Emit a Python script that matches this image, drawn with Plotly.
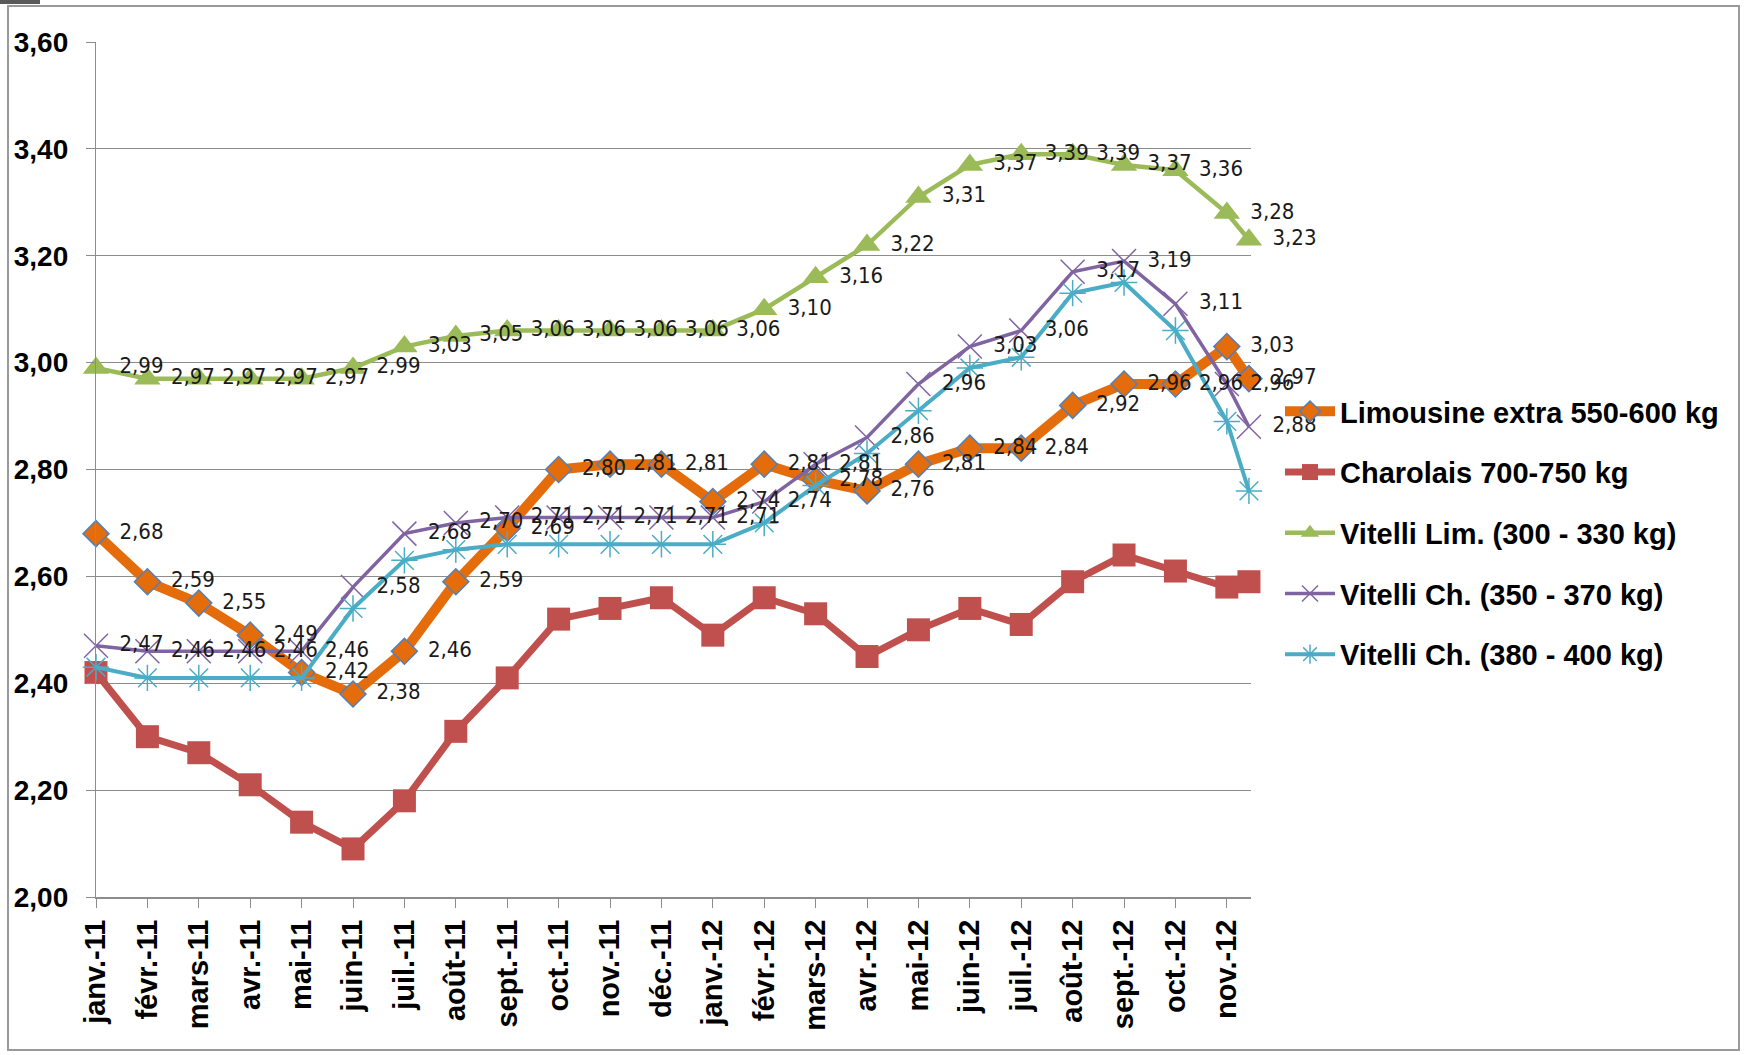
import plotly.graph_objects as go

# ---- data ----
month_labels = ["janv.-11", "févr.-11", "mars-11", "avr.-11", "mai-11", "juin-11", "juil.-11",
                "août-11", "sept.-11", "oct.-11", "nov.-11", "déc.-11", "janv.-12", "févr.-12",
                "mars-12", "avr.-12", "mai-12", "juin-12", "juil.-12", "août-12", "sept.-12",
                "oct.-12", "nov.-12"]
# position of each observation on the month axis (last one is mid-november 2012)
period = list(range(23)) + [22.43]

limousine = [2.68, 2.59, 2.55, 2.49, 2.42, 2.38, 2.46, 2.59, 2.69, 2.80, 2.81, 2.81,
             2.74, 2.81, 2.78, 2.76, 2.81, 2.84, 2.84, 2.92, 2.96, 2.96, 3.03, 2.97]
charolais = [2.42, 2.30, 2.27, 2.21, 2.14, 2.09, 2.18, 2.31, 2.41, 2.52, 2.54, 2.56,
             2.49, 2.56, 2.53, 2.45, 2.50, 2.54, 2.51, 2.59, 2.64, 2.61, 2.58, 2.59]
vitelli_lim = [2.99, 2.97, 2.97, 2.97, 2.97, 2.99, 3.03, 3.05, 3.06, 3.06, 3.06, 3.06,
               3.06, 3.10, 3.16, 3.22, 3.31, 3.37, 3.39, 3.39, 3.37, 3.36, 3.28, 3.23]
vitelli_ch_350 = [2.47, 2.46, 2.46, 2.46, 2.46, 2.58, 2.68, 2.70, 2.71, 2.71, 2.71, 2.71,
                  2.71, 2.74, 2.81, 2.86, 2.96, 3.03, 3.06, 3.17, 3.19, 3.11, 2.96, 2.88]
vitelli_ch_380 = [2.43, 2.41, 2.41, 2.41, 2.41, 2.54, 2.63, 2.65, 2.66, 2.66, 2.66, 2.66,
                  2.66, 2.70, 2.77, 2.83, 2.91, 2.99, 3.01, 3.13, 3.15, 3.06, 2.89, 2.76]

series_names = ["Limousine extra 550-600 kg", "Charolais 700-750 kg", "Vitelli Lim. (300 - 330 kg)",
                "Vitelli Ch. (350 - 370 kg)", "Vitelli Ch. (380 - 400 kg)"]
y_ticks = [2.0, 2.2, 2.4, 2.6, 2.8, 3.0, 3.2, 3.4, 3.6]

# ---- styles ----
BOLD_FONT = "Liberation Sans, Arial, sans-serif"
LABEL_FONT = "DejaVu Sans Condensed, Liberation Sans Narrow, Arial Narrow, sans-serif"
series_values = [limousine, charolais, vitelli_lim, vitelli_ch_350, vitelli_ch_380]
styles = [
    dict(color="#E46C0A", width=10, symbol="diamond", msize=20, mline=dict(color="#4F81BD", width=1.5), labels=True),
    dict(color="#C0504D", width=7, symbol="square", msize=23, mline=dict(color="#C0504D", width=0), labels=False),
    dict(color="#9BBB59", width=4.5, symbol="triangle-up", msize=23, mline=dict(color="#9BBB59", width=0), labels=True),
    dict(color="#8064A2", width=3.5, symbol="x-thin-open", msize=24, mline=dict(color="#8064A2", width=1.5), labels=True),
    dict(color="#4BACC6", width=4, symbol="asterisk-open", msize=22, mline=dict(color="#4BACC6", width=1.5), labels=False),
]

fig = go.Figure()
for i, (name, vals, st) in enumerate(zip(series_names, series_values, styles)):
    fig.add_trace(go.Scatter(
        x=period, y=vals, name=name, mode="lines+markers",
        legendgroup=f"g{i}",
        line=dict(color=st["color"], width=st["width"]),
        marker=dict(symbol=st["symbol"], size=st["msize"], color=st["color"], line=st["mline"]),
        cliponaxis=False, hoverinfo="skip",
    ))

# data labels (invisible markers push the text to the right of each point)
for i, (vals, st) in enumerate(zip(series_values, styles)):
    if not st["labels"]:
        continue
    fig.add_trace(go.Scatter(
        x=period, y=vals, mode="markers+text", showlegend=False,
        text=[f"{v:.2f}".replace(".", ",") for v in vals],
        textposition="middle right",
        marker=dict(size=36, color="rgba(0,0,0,0)"),
        textfont=dict(family=LABEL_FONT, size=22, color="#1a1a1a"),
        cliponaxis=False, hoverinfo="skip",
    ))

L, R, T, B = 96, 493, 42, 158
W, H = 1744, 1055
pw, ph = W - L - R, H - T - B


def px_x(px):
    return (px - L) / pw


def px_y(py):
    return (H - B - py) / ph


fig.update_layout(
    template="none",
    width=W, height=H,
    margin=dict(l=L, r=R, t=T, b=B, autoexpand=False),
    paper_bgcolor="white", plot_bgcolor="white",
    separators=", ",
    showlegend=True,
    hovermode=False,
    legend=dict(
        x=1280 / W, y=1 - 386 / H, xref="container", yref="container",
        xanchor="left", yanchor="top",
        font=dict(family=BOLD_FONT, size=29, color="black", weight="bold"),
        traceorder="grouped", tracegroupgap=20, itemwidth=50,
        bgcolor="rgba(0,0,0,0)", borderwidth=0,
    ),
    xaxis=dict(
        range=[0, 22.47], tickmode="array", tickvals=list(range(23)), ticktext=month_labels,
        tickangle=-90, showgrid=False, zeroline=False, automargin=False,
        showline=True, linecolor="#8c8c8c", linewidth=2,
        ticks="outside", ticklen=9, tickcolor="#8c8c8c", tickwidth=1,
        tickfont=dict(family=BOLD_FONT, size=29, color="black", weight="bold"),
    ),
    yaxis=dict(
        range=[2.0, 3.6], tickmode="array", tickvals=y_ticks, tickformat=".2f",
        showgrid=True, gridcolor="#8c8c8c", gridwidth=1.3, zeroline=False, automargin=False,
        showline=True, linecolor="#8c8c8c", linewidth=1.3,
        ticks="outside", ticklen=9, tickcolor="#8c8c8c", ticklabelstandoff=12,
        tickfont=dict(family=BOLD_FONT, size=28, color="black", weight="bold"),
    ),
    shapes=[
        dict(type="rect", xref="paper", yref="paper",
             x0=px_x(8), x1=px_x(1739), y0=px_y(1050), y1=px_y(6),
             line=dict(color="#9a9a9a", width=2), fillcolor="rgba(0,0,0,0)", layer="below"),
        dict(type="rect", xref="paper", yref="paper",
             x0=px_x(0), x1=px_x(40), y0=px_y(4), y1=px_y(0),
             line=dict(width=0), fillcolor="#5a5a5a", layer="below"),
    ],
)

fig.write_html("out.html", config={"displayModeBar": False},
               post_script="document.body.style.margin='0';")
